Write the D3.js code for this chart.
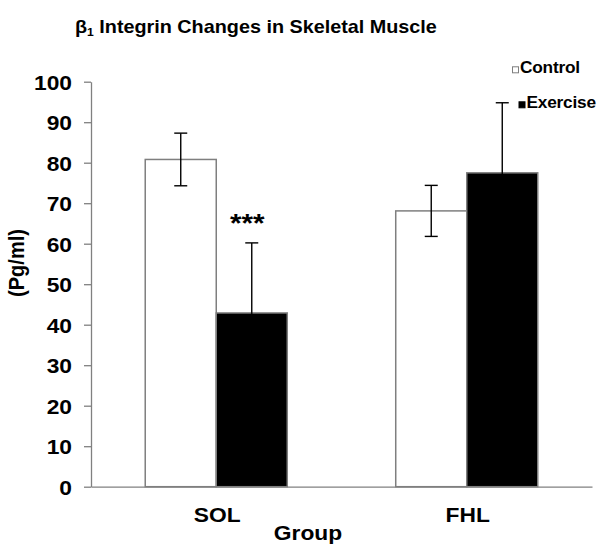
<!DOCTYPE html>
<html>
<head>
<meta charset="utf-8">
<script src="https://cdn.jsdelivr.net/npm/d3@7"></script>
<style>
  html, body { margin: 0; padding: 0; background: #fff; }
  svg { display: block; font-family: "Liberation Sans", Arial, sans-serif; font-weight: bold; }
</style>
</head>
<body>
<svg id="chart" width="598" height="544"></svg>
<script>
// ---- data ----
const categories = ["SOL", "FHL"];
const seriesNames = ["Control", "Exercise"];
const controlValues = [80.8, 68.1];
const controlErrors = [6.5, 6.3];
const exerciseValues = [42.9, 77.5];
const exerciseErrors = [17.3, 17.3];
const yTicks = [0, 10, 20, 30, 40, 50, 60, 70, 80, 90, 100];
const significance = ["***", ""];

const seriesValues = [controlValues, exerciseValues];
const seriesErrors = [controlErrors, exerciseErrors];
const fills = ["#ffffff", "#000000"];
const strokes = ["#7f7f7f", "#7f7f7f"];

const W = 598, H = 544;
const margin = { left: 91, right: 6, top: 81.7, bottom: 57.3 };
const SX = 1.14; // horizontal text stretch of the original

const svg = d3.select("#chart");

const x0 = d3.scaleBand().domain(categories)
  .range([margin.left, W - margin.right])
  .paddingInner(0.433).paddingOuter(0.2165);
const x1 = d3.scaleBand().domain(seriesNames).range([0, x0.bandwidth()]);
const y = d3.scaleLinear().domain([0, 100]).range([H - margin.bottom, margin.top]);

// stretched text helper
function sText(g, x, yy, str, size, anchor, sx) {
  return g.append("text")
    .attr("transform", `translate(${x},${yy}) scale(${sx || SX},1)`)
    .attr("text-anchor", anchor || "start")
    .attr("font-size", size)
    .attr("fill", "#000")
    .text(str);
}

// title
const title = svg.append("text")
  .attr("transform", `translate(75,33.3) scale(1.1,1)`)
  .attr("font-size", 18)
  .attr("fill", "#000");
title.append("tspan").text("β");
title.append("tspan").attr("font-size", 11).attr("dy", 3).text("1");
title.append("tspan").attr("dy", -3).text(" Integrin Changes in Skeletal Muscle");

// bars
const groups = svg.append("g").selectAll("g")
  .data(categories)
  .join("g")
  .attr("transform", d => `translate(${x0(d)},0)`);

seriesNames.forEach((s, si) => {
  groups.append("rect")
    .attr("x", x1(s))
    .attr("width", x1.bandwidth())
    .attr("y", (d, i) => y(seriesValues[si][i]))
    .attr("height", (d, i) => y(0) - y(seriesValues[si][i]))
    .attr("fill", fills[si])
    .attr("stroke", strokes[si])
    .attr("stroke-width", 1.5);
});

// error bars
const capW = 6.5;
seriesNames.forEach((s, si) => {
  const cx = x1(s) + x1.bandwidth() / 2;
  const eb = groups.append("g").attr("stroke", "#000").attr("stroke-width", 1.4);
  eb.append("line")
    .attr("x1", cx).attr("x2", cx)
    .attr("y1", (d, i) => y(seriesValues[si][i] + seriesErrors[si][i]))
    .attr("y2", (d, i) => y(seriesValues[si][i] - seriesErrors[si][i]));
  eb.append("line")
    .attr("x1", cx - capW).attr("x2", cx + capW)
    .attr("y1", (d, i) => y(seriesValues[si][i] + seriesErrors[si][i]))
    .attr("y2", (d, i) => y(seriesValues[si][i] + seriesErrors[si][i]));
  eb.append("line")
    .attr("x1", cx - capW).attr("x2", cx + capW)
    .attr("y1", (d, i) => y(seriesValues[si][i] - seriesErrors[si][i]))
    .attr("y2", (d, i) => y(seriesValues[si][i] - seriesErrors[si][i]));
});

// significance stars (beside the SOL exercise bar top)
groups.each(function (d, i) {
  if (!significance[i]) return;
  const cx = x1("Exercise") + x1.bandwidth() / 2 - 4.5;
  sText(d3.select(this), cx, 231.5, significance[i], 26, "middle");
});

// y axis
const yAxis = svg.append("g")
  .attr("transform", `translate(${margin.left},0)`)
  .call(d3.axisLeft(y).tickValues(yTicks).tickSize(7).tickSizeOuter(0));
yAxis.select(".domain").attr("stroke", "#808080").attr("stroke-width", 1.3);
yAxis.selectAll(".tick line").attr("stroke", "#808080").attr("stroke-width", 1.3);
yAxis.selectAll(".tick text")
  .attr("x", null).attr("dy", null)
  .attr("transform", `translate(-19,7.5) scale(${SX},1)`)
  .attr("font-size", 20)
  .attr("font-family", null)
  .attr("fill", "#000");

// x axis
const xAxis = svg.append("g")
  .attr("transform", `translate(0,${y(0)})`)
  .call(d3.axisBottom(x0).tickSize(0).tickSizeOuter(0));
xAxis.select(".domain").attr("stroke", "#808080").attr("stroke-width", 1.3);
xAxis.selectAll(".tick text")
  .attr("y", null).attr("dy", null)
  .attr("transform", `translate(1,35.5) scale(${SX},1)`)
  .attr("font-size", 20)
  .attr("font-family", null)
  .attr("fill", "#000");

// axis titles
sText(svg, 308, 539.5, "Group", 20, "middle");
svg.append("text")
  .attr("transform", `translate(24,263) rotate(-90) scale(1,1.1)`)
  .attr("text-anchor", "middle")
  .attr("font-size", 20)
  .attr("fill", "#000")
  .text("(Pg/ml)");

// legend
const legend = svg.append("g");
const legendPos = [{ x: 512, y: 73.3 }, { x: 518.5, y: 108.3 }];
seriesNames.forEach((s, si) => {
  const p = legendPos[si];
  legend.append("rect")
    .attr("x", p.x + 0.5).attr("y", p.y - 6.5)
    .attr("width", 6).attr("height", 6)
    .attr("fill", fills[si])
    .attr("stroke", si === 0 ? "#7f7f7f" : "#000")
    .attr("stroke-width", 1);
  sText(legend, p.x + 8, p.y, s, 16, "start", 1.08)
    .attr("letter-spacing", -0.2);
});
</script>
</body>
</html>
